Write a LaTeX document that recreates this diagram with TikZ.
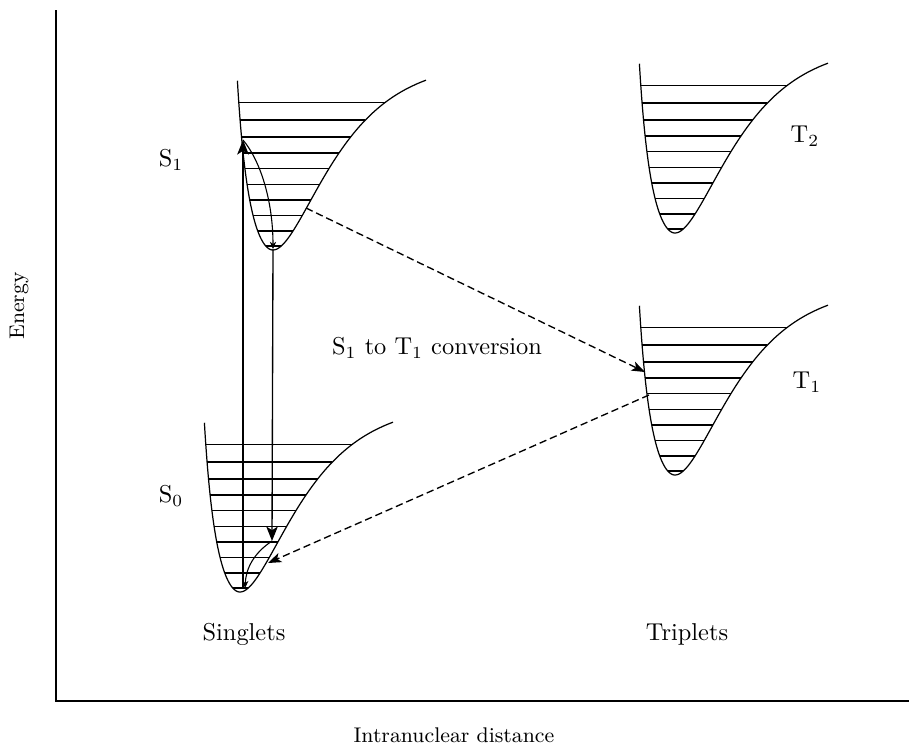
\documentclass[tikz,border=0pt]{standalone}
\usetikzlibrary{arrows.meta}
% left wall: h = 0.075 x^2/(1-x^2/2890); right wall: Morse h = 190(1-exp(-0.019x))^2
\newcommand\morsewell[2]{%
  \begin{scope}[shift={(#1,#2)}]
  \draw[wellline,variable=\t]
    plot[domain=-35.6:0,samples=60,smooth] ({\t},{-0.075*\t*\t/(1-\t*\t/2890)})
    -- plot[domain=0:153,samples=90,smooth] ({\t},{-190*(1-exp(-0.019*\t))*(1-exp(-0.019*\t))});
  \foreach \h in {4,19,34.5,50,65.5,81.5,97,113,130,147.5}{%
    \pgfmathsetmacro\wl{-sqrt(\h/(0.075+\h/2890))}%
    \pgfmathsetmacro\wr{-ln(1-sqrt(\h/190))/0.019}%
    \draw[wellline] (\wl,-\h) -- (\wr,-\h);
  }%
  \end{scope}%
}
\tikzset{
  wellline/.style={line width=0.5pt},
  axisline/.style={line width=0.75pt},
  bigarrow/.style={line width=0.55pt,-{Stealth[length=6pt,width=4.8pt,inset=1.6pt]}},
  smallarrow/.style={line width=0.45pt,-{Stealth[length=3pt,width=2.6pt]}},
  dasharrow/.style={line width=0.55pt,dash pattern=on 3pt off 1.6pt,-{Stealth[length=5.5pt,width=4pt,inset=1.4pt]}},
  lbl/.style={inner sep=0pt,font=\normalsize},
  axlbl/.style={inner sep=0pt,font=\fontsize{8.7pt}{10pt}\selectfont},
}
\begin{document}
\begin{tikzpicture}[x=0.41pt,y=-0.41pt]
\useasboundingbox (0,0) rectangle (909,747);
% axes
\coordinate (ytop) at (56,10);
\coordinate (orig) at (56,701);
\coordinate (xend) at (909,701);
\draw[axisline] (ytop) -- (orig) -- (xend);
% wells
\morsewell{273}{250}
\morsewell{240}{592}
\morsewell{675}{233}
\morsewell{675}{475}
% arrow end points
\coordinate (upbot) at (243,588);
\coordinate (uptop) at (243,140);
\coordinate (s1min) at (273,249);
\coordinate (downtip) at (272,541);
\coordinate (s0end) at (245,588);
\coordinate (s1wall) at (306,208);
\coordinate (t1in) at (645,372);
\coordinate (t1out) at (649,395);
\coordinate (s0wall) at (268,563);
\draw[bigarrow] (upbot) -- (uptop);
\draw[smallarrow] (uptop) .. controls (260,160) and (273,200) .. (s1min);
\draw[bigarrow] (s1min) -- (downtip);
\draw[smallarrow] (downtip) .. controls (254,553) and (246,568) .. (s0end);
\draw[dasharrow] (s1wall) -- (t1in);
\draw[dasharrow] (t1out) -- (s0wall);
% labels
\node[lbl] (lS1) at (171,160) {S$_1$};
\node[lbl] (lS0) at (171,496) {S$_0$};
\node[lbl] (lT2) at (805,136) {T$_2$};
\node[lbl] (lT1) at (807,382) {T$_1$};
\node[lbl] (conv) at (437,348) {S$_1$ to T$_1$ conversion};
\node[lbl] (sing) at (244,634) {Singlets};
\node[lbl] (trip) at (687,634) {Triplets};
\node[axlbl,rotate=90] (energy) at (19,306) {Energy};
\node[axlbl] (dist) at (454,735) {Intranuclear distance};
\end{tikzpicture}
\end{document}
